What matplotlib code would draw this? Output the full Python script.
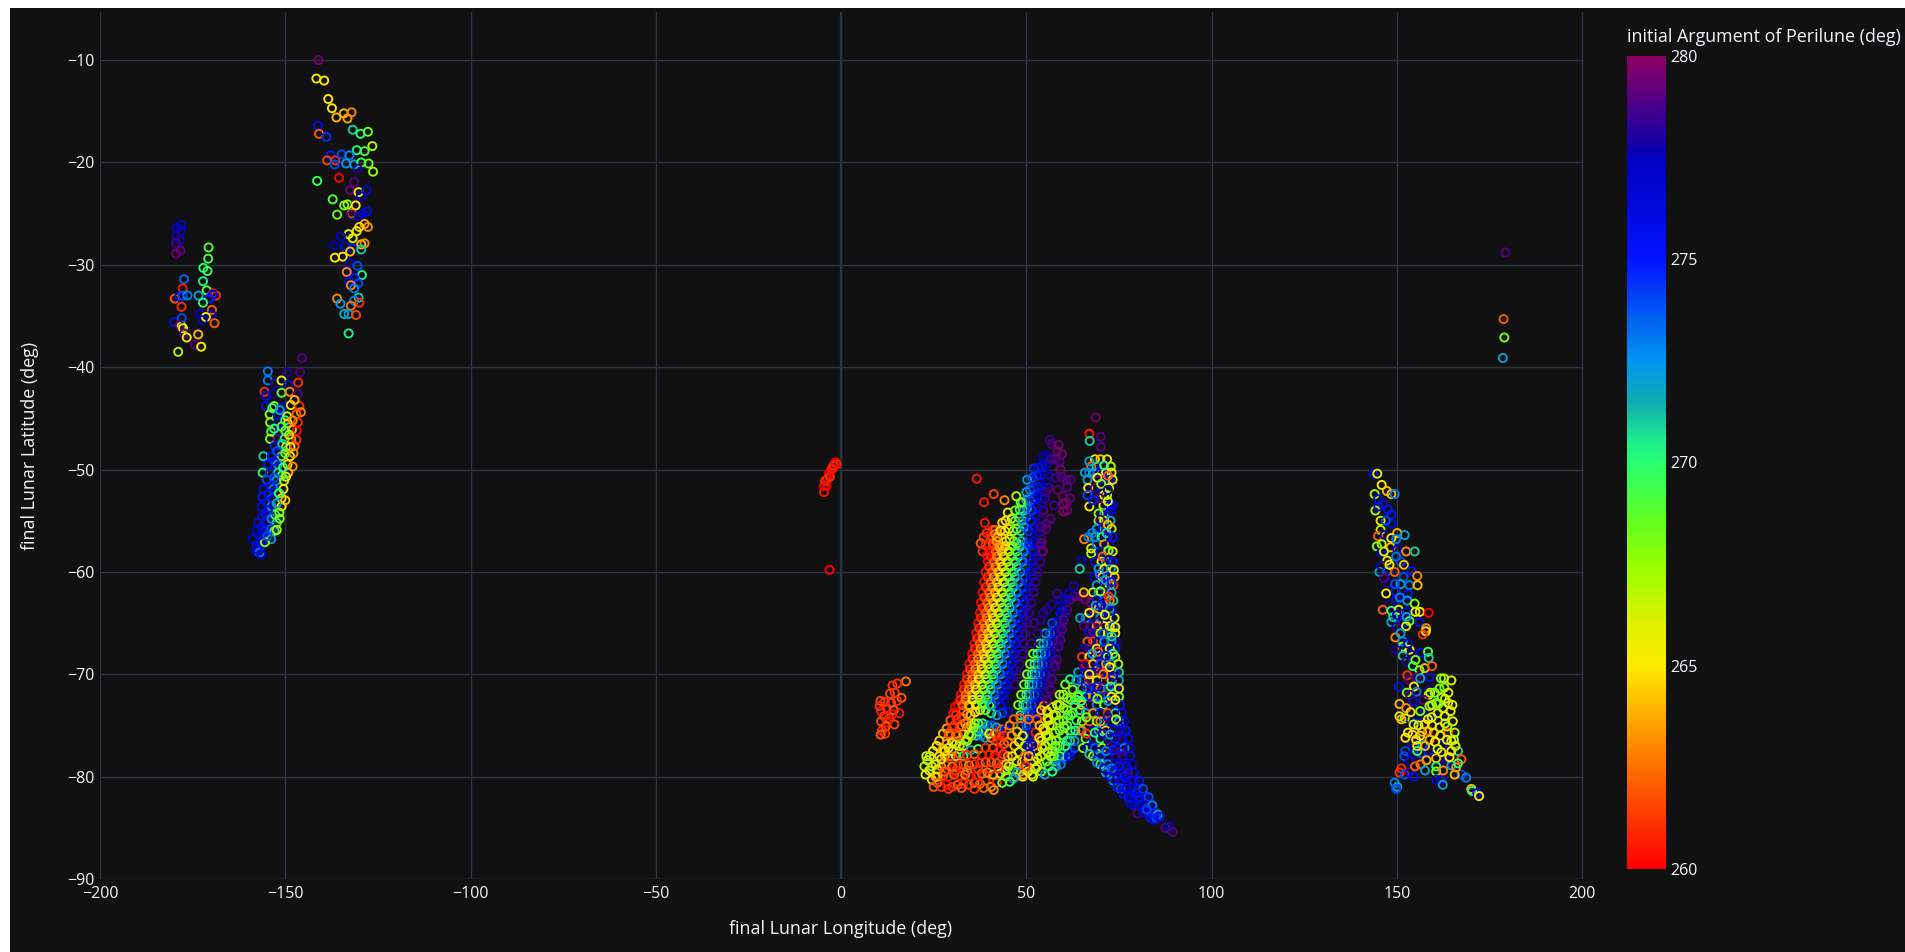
"""Lunar impact scatter: final lat/lon coloured by initial argument of perilune."""

import matplotlib
matplotlib.use("Agg")
import matplotlib.pyplot as plt
import numpy as np
from matplotlib.colors import LinearSegmentedColormap, Normalize
from matplotlib.patches import Rectangle

plt.rcParams["font.family"] = ["Open Sans", "DejaVu Sans"]

W, H = 1905, 952
BG = "#111111"
GRID = "#283442"
TEXT = "#f2f5fa"
na = np.nan

X_TICKS = [-200, -150, -100, -50, 0, 50, 100, 150, 200]
Y_TICKS = [-90, -80, -70, -60, -50, -40, -30, -20, -10]
CBAR_TICKS = [260, 265, 270, 275, 280]

ARG_STOPS = [260, 262, 263.5, 265, 266, 267.5, 268.5, 270, 270.5, 271.5, 272.5, 273.3, 275, 277.5, 278, 280]
ARG_COLORS = ["#ff0000", "#ff5a00", "#ffa000", "#ffeb00", "#e1f000", "#96ff00", "#64ff1e", "#28ff6e",
              "#1ef08c", "#14aab4", "#0096f0", "#006ef0", "#0014ff", "#0000be", "#1e00a0", "#8c0064"]

# ── Points: (lon, lat, arg) ───────────────────────────────────────────────────

far_east = [(179.3, -28.8, 279), (178.8, -35.3, 262), (179, -37.1, 268), (178.6, -39.1, 272)]

cluster_a = [
    (-141, -10, 279.5), (-141.6, -11.8, 265.5), (-139.5, -12, 265), (-138.4, -13.8, 265), (-137.4, -14.7, 265),
    (-136.2, -15.6, 264), (-134.2, -15.2, 264), (-133.2, -15.7, 263.5), (-132.1, -15.1, 263), (-141.2, -16.4, 276),
    (-140.9, -17.2, 262), (-138.9, -17.5, 274.5), (-131.8, -16.8, 271), (-129.7, -17.2, 270), (-127.7, -17, 268.5),
    (-126.5, -18.4, 267), (-128.6, -18.9, 269), (-130.7, -18.8, 270), (-137.8, -19.3, 275), (-138.7, -19.8, 261.5),
    (-136.5, -19.8, 261), (-136.7, -20.2, 274), (-134.8, -19.2, 274), (-132.7, -19.3, 273), (-133.6, -20.1, 272.5),
    (-131.4, -20.2, 272), (-129.5, -20, 270), (-127.5, -20.1, 268.5), (-126.3, -20.9, 267.5), (-130.5, -20.6, 278),
    (-141.4, -21.8, 269.5), (-135.5, -21.5, 260), (-131.4, -21.9, 279), (-132.5, -22.7, 279.5), (-130.2, -22.9, 265),
    (-128.1, -22.7, 276.5), (-129.6, -23.3, 277), (-137.2, -23.6, 269), (-134.1, -24.2, 268), (-133.2, -24.1, 267.5),
    (-131, -24.1, 278.5), (-131, -24.2, 265), (-136, -25.1, 268.5), (-132.1, -25, 263), (-132.1, -25.1, 279),
    (-127.9, -24.8, 276), (-129.1, -25, 276.5), (-130, -25.3, 277), (-127.7, -26.3, 263), (-128.6, -26, 263.5),
    (-130, -26.3, 264.5), (-130.7, -26.7, 265.5), (-132.9, -27, 266), (-131.8, -27.4, 266), (-135, -27.2, 277),
    (-136.8, -28.1, 277.5), (-133.9, -28.2, 276), (-131.8, -28.4, 275), (-132.5, -28.7, 264), (-129.5, -28, 264),
    (-128.6, -27.9, 263), (-129.5, -28.5, 271), (-136.6, -29.3, 265), (-134.5, -29.2, 265), (-132.5, -29.8, 277),
    (-130.5, -30.1, 274), (-133.4, -30.6, 278), (-133.4, -30.7, 263), (-129.3, -31, 270.5), (-131.4, -31.3, 275),
    (-132.7, -31.6, 276), (-130.3, -31.8, 274), (-132.3, -32, 263), (-131.4, -32.3, 273), (-136, -33.3, 263),
    (-135.1, -33.8, 272.5), (-130.2, -33.2, 271), (-131.4, -33.5, 273), (-130, -33.7, 261), (-132.3, -34, 262.5),
    (-134.1, -34.8, 271.5), (-132.9, -34.8, 272), (-130.9, -34.9, 261.5), (-132.9, -36.7, 270.5),
]

cluster_b = [
    (-178.1, -26.1, 277), (-179.4, -26.4, 277), (-178.1, -26.7, 277), (-179.4, -27.2, 278), (-178.5, -27.6, 278),
    (-179.5, -27.9, 278.5), (-178.3, -28.6, 279), (-179.5, -28.9, 279.5), (-170.7, -28.3, 269), (-170.8, -29.4, 269),
    (-172.1, -30.3, 270), (-171, -30.6, 269.5), (-177.3, -31.4, 273.5), (-172.2, -31.6, 270.5), (-177.7, -32.3, 260.5),
    (-171.2, -32.5, 269), (-169.5, -32.8, 261), (-179.8, -33.3, 262), (-178.6, -33.1, 276), (-177.7, -33, 274),
    (-176.4, -33, 273), (-173.4, -33, 272), (-168.7, -33, 261), (-169.5, -32.9, 277), (-170.5, -33.3, 275),
    (-172.2, -33.7, 270), (-178, -34.1, 261), (-169.8, -34.4, 262), (-173, -34.8, 277), (-169.8, -34.9, 277),
    (-179.9, -35.6, 276), (-177.9, -35.2, 274), (-171.4, -35.1, 265), (-172.3, -35.4, 277), (-169.1, -35.7, 262),
    (-178, -36, 265), (-178.5, -35.9, 279), (-177.6, -36.2, 266), (-177.3, -36.7, 279), (-176.6, -37.1, 265.5),
    (-173.5, -36.7, 278), (-173.5, -36.8, 264), (-174.4, -37.8, 279), (-172.7, -38, 265), (-178.9, -38.5, 267),
]

cluster_c = [
    (-145.5, -39.1, 279), (-149.5, -40.5, 278), (-154.7, -40.4, 273), (-146, -40.5, 279), (-154.7, -41.3, 273),
    (-152.8, -41.6, 278), (-151, -41.3, 266), (-149.2, -41.7, 276), (-146.5, -41.5, 261), (-155.6, -42.4, 261),
    (-153.4, -42.6, 278), (-151, -42.5, 269), (-148.8, -42.4, 263), (-146.6, -42.6, 279), (-155.2, -42.8, 276),
    (-155.2, -43.8, 276), (-153, -43.8, 268), (-150.8, -43.9, 277), (-148.5, -43.7, 265), (-146.2, -43.8, 261),
    (-145.8, -44.4, 263), (-154.2, -44.6, 267), (-152, -44.7, 276), (-149.5, -44.8, 266), (-147, -44.6, 262),
    (-154.1, -45.4, 268), (-152, -45.4, 277), (-149.3, -45.5, 265), (-146.6, -45.4, 261), (-148.2, -46.1, 264),
    (-153.8, -46.3, 269), (-151.5, -46.3, 276), (-150, -46.2, 268), (-146.9, -46.2, 260), (-154.1, -47, 268),
    (-152, -47, 279), (-150.2, -47, 270), (-148.4, -47, 263), (-147, -47.1, 261), (-152.8, -47.7, 275),
    (-149.8, -47.8, 267), (-147.5, -47.7, 262), (-155.9, -48.7, 271), (-153.6, -48.7, 276), (-151, -48.7, 268),
    (-148.7, -48.7, 265), (-154.6, -49.5, 275), (-152, -49.5, 272), (-149.4, -49.5, 266), (-148, -49.7, 263),
    (-156.1, -50.3, 270), (-154.1, -50.3, 276), (-151.9, -50.3, 271), (-149.2, -50.3, 264), (-155, -51, 274),
    (-152.5, -51.1, 272), (-150.3, -51.1, 267), (-155.9, -51.9, 276), (-153.2, -51.9, 273), (-150.5, -51.9, 265),
    (-156.2, -52.7, 275), (-153.6, -52.8, 274), (-151, -52.8, 266), (-156.4, -53.6, 276), (-153.7, -53.6, 272),
    (-151, -53.6, 265), (-155.2, -54.4, 275), (-152.8, -54.4, 270), (-157.3, -55.2, 276), (-155, -55.2, 276),
    (-152.3, -55.2, 269), (-157.8, -56, 277), (-155.4, -56, 275), (-152.9, -56, 270), (-158.7, -56.8, 277),
    (-156, -56.8, 276), (-153.8, -56.8, 272), (-157.9, -57.4, 276), (-156.5, -57.4, 277), (-155.5, -57.1, 268),
    (-157.8, -58, 277), (-156.9, -58.1, 273),
    (-153.5, -44, 270), (-151.5, -44.2, 272), (-147.5, -43.2, 264), (-150, -45.2, 270), (-151, -45.8, 269),
    (-148, -45.2, 263), (-153, -46, 270), (-149, -46.6, 267), (-150.8, -47.5, 271), (-148.6, -47.8, 265),
    (-152.2, -48.2, 274), (-150, -48.4, 269), (-147.8, -48.4, 263), (-153, -49.2, 275), (-150.6, -49.8, 270),
    (-151, -50.6, 270), (-149.8, -50.7, 266), (-153, -50.8, 274), (-154, -51.6, 275), (-151.7, -52.3, 270),
    (-154.6, -52.4, 276), (-152.3, -53.3, 272), (-155, -53.2, 276), (-150, -53, 264), (-154.7, -54, 276),
    (-151.6, -54.2, 268), (-156.2, -54.6, 276), (-153.7, -54.8, 273), (-151.5, -54.8, 268), (-156.3, -55.6, 276),
    (-153.8, -55.8, 274), (-156.9, -56.4, 277), (-154.8, -56.5, 274), (-156.5, -58.3, 277), (-157.5, -57.8, 276),
    (-152.3, -55.9, 267),
]

near_side = [
    (-4.6, -52.2, 260.5), (-4.6, -51.6, 260), (-4.3, -51.1, 261), (-3.9, -51.6, 260), (-3.7, -50.9, 260.5),
    (-3.3, -50.4, 260), (-3, -50.7, 261), (-2.7, -50, 260), (-2.3, -49.9, 260.5), (-2, -49.6, 261),
    (-1.5, -49.3, 260), (-1.2, -49.5, 260.5), (-3.1, -59.8, 260),
]

cluster_e = [
    (17.5, -70.7, 262.5), (15.2, -70.9, 261), (13.9, -71.1, 261), (13.2, -71.9, 261.5), (14.5, -71.8, 261),
    (16.3, -72.3, 262), (15.1, -72.6, 261), (13.5, -72.8, 261.5), (11.8, -72.7, 261), (10.6, -72.6, 261.5),
    (12.3, -73.3, 261), (14.2, -73.5, 262), (15.7, -73.8, 260.5), (10.8, -73.6, 260.5), (11.6, -74.1, 261),
    (13, -74.3, 261), (14.4, -74.9, 261.5), (10.8, -74.6, 261.5), (12, -75.1, 262), (11, -75.5, 261),
    (11.9, -75.8, 261), (10.7, -75.9, 262), (12.4, -74.7, 260.5), (13.8, -73.9, 260.5), (10.4, -73.1, 261),
]

# Main rainbow band, one longitude per latitude row for each argument level
band_lat_a = [-73, -72, -71, -70, -69, -68, -67, -66, -65, -64, -63, -62, -61, -60, -59, -58]
band_lat_b = [-72.5, -71.5, -70.5, -69.5, -68.5, -67.5, -66.5, -65.5, -64.5, -63.5, -62.5, -61.5, -60.5, -59.5, -58.5, -57.5]

lon_260 = [31.5, 32.3, 33.2, 34.0, 34.6, 35.4, 36.0, 36.5, 37.0, 37.5, 37.8, 38.2, 38.6, 39.0, 39.6, 40.0]
lon_261 = [32.2, 33.2, 34.0, 34.8, 35.5, 36.2, 36.8, 37.3, 37.8, 38.3, 38.7, 39.1, 39.6, 40.0, 40.5, 41.0]
lon_262 = [32.8, 33.7, 34.6, 35.4, 36.2, 37.0, 37.5, 38.2, 38.6, 39.1, 39.5, 40.0, 40.4, 40.8, 41.3, 41.8]
lon_263 = [33.6, 34.5, 35.4, 36.3, 37.0, 37.7, 38.3, 38.9, 39.4, 39.9, 40.3, 40.8, 41.2, 41.7, 42.1, 42.6]
lon_264 = [34.5, 35.4, 36.2, 37.1, 37.8, 38.5, 39.1, 39.7, 40.2, 40.7, 41.1, 41.6, 42.1, 42.5, 43.0, 43.4]
lon_265 = [35.5, 36.4, 37.2, 38.0, 38.8, 39.4, 40.0, 40.6, 41.1, 41.6, 42.1, 42.5, 43.0, 43.5, 43.9, 44.3]
lon_266 = [36.4, 37.3, 38.1, 39.0, 39.7, 40.3, 41.0, 41.5, 42.0, 42.5, 43.0, 43.5, 44.0, 44.4, 44.9, 45.3]
lon_267 = [37.5, 38.4, 39.2, 40.0, 40.7, 41.4, 42.0, 42.5, 43.1, 43.6, 44.1, 44.6, 45.0, 45.5, 45.9, 46.3]
lon_269 = [38.5, 39.4, 40.2, 41.0, 41.7, 42.3, 43.0, 43.5, 44.1, 44.6, 45.1, 45.6, 46.0, 46.5, 46.9, 47.3]
lon_270 = [39.5, 40.4, 41.2, 42.0, 42.7, 43.3, 44.0, 44.5, 45.0, 45.5, 46.0, 46.5, 47.0, 47.5, 47.9, 48.3]
lon_272 = [40.6, 41.5, 42.2, 43.0, 43.6, 44.3, 44.9, 45.5, 46.0, 46.5, 47.0, 47.5, 48.0, 48.4, 48.9, 49.3]
lon_274 = [42.0, 42.8, 43.6, 44.4, 45.0, 45.6, 46.2, 46.8, 47.4, 48.0, 48.4, 48.9, 49.3, 49.8, 50.2, 50.6]
lon_275 = [43.0, 43.8, 44.6, 45.5, 46.1, 46.7, 47.2, 47.8, 48.4, 49.0, 49.5, 50.0, 50.5, 51.0, 51.5, 52.0]
lon_277 = [44.0, 44.8, 45.6, 46.5, 47.2, 47.8, 48.2, 48.8, 49.4, 50.0, 50.5, 51.1, 51.6, 52.2, 52.8, 53.2]
lon_278 = [na, na, 47.0, 47.8, 48.3, 48.9, 49.3, 49.7, 50.3, 50.8, 51.4, 52.0, 52.5, 53.1, 53.7, 54.2]

band_top = [
    (43.5, -57.5, 264), (44.5, -57, 265), (45.5, -56.8, 266), (46.6, -57, 267.5), (47.5, -57.2, 269),
    (48.6, -57, 271), (49.8, -57.2, 273), (50.8, -57.2, 275), (51.8, -57, 276.5), (53, -57.2, 277.5),
    (54.2, -56.8, 278.5), (44.2, -56, 264.5), (45.3, -55.8, 265.5), (46.5, -56, 267), (47.4, -55.8, 268.5),
    (48.5, -56, 270.5), (49.5, -55.6, 272.5), (50.6, -56, 274.5), (51.8, -55.8, 276), (53, -56, 277.5),
    (54, -55.6, 279), (44.4, -55, 265), (46, -54.8, 266.5), (47, -55, 268), (48, -54.7, 269.5),
    (49, -55, 271.5), (50, -54.6, 273), (51.2, -55, 275), (52.5, -54.6, 276.5), (53.8, -55, 278),
    (54.6, -54, 279), (45, -54.2, 265.5), (47, -54, 268), (48.2, -53.9, 269.5), (49.2, -54, 271),
    (50.2, -53.8, 272.5), (51.5, -54, 274.5), (52.8, -53.7, 276), (54.2, -53.5, 278), (55, -52.8, 278.5),
    (49, -53.2, 270.5), (50, -53, 272), (51, -53, 273.5), (52, -52.8, 275), (53, -52.6, 276),
    (54, -52.8, 277), (55.3, -52.2, 278.5), (56, -51.8, 279), (50, -52.2, 272), (51, -52, 273),
    (52, -51.8, 274.5), (53, -51.7, 275.5), (54.2, -51.6, 276.5), (55.4, -51.2, 277.5), (50.2, -51, 272.5),
    (51.6, -50.8, 274), (52.8, -50.6, 275), (54, -50.5, 276), (55, -50.2, 277), (56, -50.5, 278),
    (52, -49.9, 274.5), (53.2, -49.8, 276), (54.3, -49.6, 276.5), (55.5, -49.4, 277), (54.5, -48.8, 277),
    (55.5, -48.6, 277.5), (56.7, -49, 278.5), (58, -49, 279), (56.3, -47.1, 278.5), (56.9, -47.5, 279),
    (58.7, -47.6, 279.5), (58.4, -48.2, 279.5), (59.6, -48.5, 279.5), (59, -49.2, 279), (59.2, -50, 279.5),
    (58, -50.8, 278.5), (59.5, -50.7, 279), (60.8, -51, 279), (62, -51, 279), (61, -51.7, 279),
    (58.5, -52, 279), (59.8, -52.6, 279.5), (61.8, -52.8, 279), (60, -53.4, 280), (60.8, -53.2, 279.5),
    (60, -54.1, 280), (61, -54, 279.5), (57.5, -53.5, 278.5), (56.5, -54.8, 279), (55.5, -55.3, 279),
    (55.3, -55.8, 279), (54, -57.2, 279.5), (54.5, -58, 279.5), (52.5, -58.5, 278),
    (36.6, -50.9, 260.5), (41.2, -52.4, 261.5), (38.6, -53.2, 260.5), (44.1, -53, 263), (47.3, -52.6, 267),
    (48.5, -53.2, 268), (38.8, -55.2, 260.5), (40.9, -55.9, 261), (41.6, -55.9, 262),
    (37.7, -57.2, 262), (38.5, -56.6, 261.5), (39.3, -56.2, 261), (40.2, -56.4, 260.5), (40.8, -56.6, 261),
    (41.6, -56.3, 262.5), (39, -57.4, 261), (40, -57.4, 260.5), (41, -57.2, 261.5), (42, -57, 263),
    (42.2, -56.6, 264), (43, -56, 265), (43.5, -55.2, 264.5), (42.8, -57.6, 263.5), (38.2, -58, 261),
    (39.4, -58.4, 260),
]

# Second band, left of the purple ridge
band2_lat = [-76, -75, -74, -73, -72, -71, -70, -69, -68, -67, -66, -65, -64]
b2_268 = [na, na, na, 47.8, 48.6, 49.4, 50.2, 51.0, 51.8, na, na, na, na]
b2_270 = [na, na, 48.4, 49.2, 50.0, 50.8, 51.5, 52.2, 53.0, 53.6, na, na, na]
b2_272 = [na, 48.6, 49.6, 50.2, 51.0, 51.8, 52.5, 53.2, 54.0, 54.6, 55.2, na, na]
b2_274 = [49.4, 50.0, 50.6, 51.4, 52.2, 53.0, 53.7, 54.4, 55.2, 55.8, 56.4, 57.0, na]
b2_276 = [50.6, 51.2, 51.9, 52.6, 53.4, 54.3, 55.1, 55.8, 56.6, 57.2, 57.8, 58.4, 59.2]
b2_278 = [na, na, 53.5, 54.4, 55.2, 55.9, 56.6, 57.3, 58.0, 58.6, 59.2, 59.8, 60.4]

ridge = [
    (55.6, -72.5, 279), (56.5, -71.5, 279), (56.9, -70.5, 279), (57.8, -69.2, 279), (58.3, -68.6, 279),
    (58.7, -67.3, 279), (59.2, -66.6, 279), (59.6, -65.6, 279), (60.1, -64.7, 279), (61, -63.7, 279),
    (61.9, -62.7, 279), (63.2, -62.4, 279), (64.6, -62.4, 279), (65.9, -62.7, 279.5), (67.3, -63, 279.5),
    (68.2, -63.7, 279.5), (67.3, -65.3, 279.5), (68.2, -65.8, 279.5), (59.6, -63.7, 277), (60.5, -62.7, 277),
    (59.2, -62.7, 277), (61.4, -62.1, 277), (62.8, -61.4, 278), (58.3, -62.1, 278.5), (55.6, -63.7, 278),
    (53.8, -64.7, 278), (52, -65, 278.5), (56.9, -63.2, 278), (54.6, -64, 278), (53, -66, 278.5), (51.5, -67, 278.5),
]

# Lime lobe at the foot of the tower, plus its orange/yellow left edge
lobe = [
    (47, -80, 263), (48.5, -79.5, 263), (50, -79, 263), (51, -78, 263.5), (52, -77, 263.5),
    (49, -80, 265), (50.5, -79.5, 265), (52, -78.5, 265), (53, -77.5, 265), (54, -76.5, 265),
    (55, -75.5, 265.5), (56, -74.5, 265.5), (51.5, -79.8, 267), (53, -79, 267), (54, -78, 267),
    (55, -77, 267), (56, -76, 267), (57, -75, 267), (58, -74, 267), (59, -73, 267), (60, -72, 267),
    (54, -79.5, 268), (55.5, -78.5, 268), (57, -77.5, 268), (58, -76.5, 268), (59, -75.5, 268),
    (60, -74.5, 268), (61, -73.5, 268), (62, -72.5, 268), (62.5, -71.5, 268), (56, -79, 269),
    (57.5, -78, 269), (59, -77, 269), (60, -76, 269), (61, -75, 269), (62, -74, 269), (63, -73, 269),
    (64, -72, 269), (58, -78.5, 270), (59.5, -77.7, 270), (61, -76.5, 270), (62, -75.5, 270),
    (63.5, -74.5, 270), (64.5, -73.5, 270), (55, -79.8, 272), (58, -79, 272), (60.5, -78, 272),
    (63, -76.5, 272), (64.5, -75.5, 272), (60, -78.3, 275), (62, -77.6, 275), (63, -77.2, 274),
    (53, -78.2, 266), (54.3, -77.2, 266), (55.3, -76, 266), (56.3, -75, 266), (57.3, -74, 266.5),
    (58.3, -73, 266.5), (59, -72, 267), (60.5, -71, 268), (61.8, -70.5, 270),
    (46.6, -74.4, 262), (48.4, -74.3, 262), (50.6, -74.4, 262.5), (54.7, -73.1, 263), (54, -73.5, 264),
    (55.6, -73.6, 265), (52.9, -74.4, 262), (52.5, -75.7, 260.5), (53.6, -75, 264), (52.5, -76.8, 262),
    (45.5, -75, 263), (46, -76, 263), (46.8, -77, 264), (46.2, -78, 265), (45.2, -79, 267),
    (47.5, -75.6, 264), (48, -76.6, 265), (48, -77.6, 266), (47.4, -78.5, 266.5), (46.5, -79.4, 268),
    (49, -76, 266), (49.5, -77, 267), (49.5, -78, 262), (48.8, -78.6, 264), (44.5, -80, 268),
    (47.5, -79.6, 272), (46.5, -80.2, 272), (45.5, -80.5, 270), (43.5, -80.6, 268), (50.5, -77, 276),
    (51, -77.8, 277), (50, -78.4, 278), (51.6, -76.9, 277), (49.8, -79, 261),
    (56.5, -78, 267), (57.8, -75.7, 267.5), (58.8, -74.5, 267.5), (60, -73.3, 267.5), (61, -72.3, 268),
    (60.2, -75.2, 268), (61.2, -74, 268.5), (62.5, -73.8, 269), (63.5, -72.5, 270), (55.8, -77.6, 266.5),
    (56.8, -76.5, 267), (57.8, -77, 268), (59, -78, 269), (60.5, -77, 270), (61.8, -76.5, 271),
    (63.2, -75.5, 270), (53.5, -76.2, 265), (54.6, -75.3, 265.5), (55.7, -74.3, 266), (57, -73.2, 266.5),
    (52.5, -79.2, 266), (50.6, -78, 264), (49.2, -79.8, 264), (51.8, -80, 266), (57, -79.5, 270),
    (59.3, -78.8, 273), (61.5, -78, 276),
]

base = [
    (22.5, -79, 267), (22.8, -79.8, 266), (23.3, -78.4, 266.5), (23.8, -79.4, 265.5), (24, -78, 266),
    (24.5, -80.3, 265), (24.8, -77.5, 265.5), (25.5, -78.8, 265), (25.8, -77, 265), (26.5, -78, 264.5),
    (26.5, -76.5, 264.5), (27.5, -77.3, 264), (27.5, -75.8, 264), (28.5, -76.8, 263.5), (28.5, -75.3, 263.5),
    (29.5, -76, 263), (29.5, -74.5, 262), (30.3, -73.8, 260.5), (30.5, -75, 261), (31.2, -74.4, 260.5),
    (31, -75.8, 262), (32, -75.2, 261), (32.5, -74.2, 261), (33, -73.6, 262), (34, -73.9, 263),
    (35, -74, 264), (36.2, -73.7, 265), (37.5, -73.5, 266), (39, -73.5, 268), (40.5, -73.8, 270), (42, -74, 272),
    (43.5, -73.8, 274), (45, -73.7, 275.5), (32, -76.5, 263), (33, -75.8, 264), (34, -75.2, 265),
    (35, -75, 266), (36, -74.8, 267), (37, -74.8, 268), (38.2, -74.8, 270), (39.5, -75, 272),
    (40.8, -75, 274), (42, -75.2, 272), (43.3, -75.4, 262), (44.5, -75.4, 275), (33, -77, 265),
    (34, -76.5, 267), (35.2, -76, 268), (36.5, -76, 271), (37.8, -76, 273), (39, -76.2, 272),
    (40.5, -76.2, 263), (42, -76.5, 260.5), (43, -76.5, 261), (44, -76.8, 262), (30, -77.5, 265),
    (31, -78, 266), (33, -78, 270), (35, -77.4, 272), (37, -77.3, 269), (39, -77.2, 261),
    (41, -77.2, 262), (42.5, -77.5, 260), (43.8, -77.8, 261), (25, -81, 262), (27, -81, 261),
    (28.5, -80.8, 260), (30, -81, 261), (31.5, -80.8, 262), (33, -80.7, 260.5), (34.5, -80.8, 261),
    (36, -80.6, 263), (37.5, -80.7, 262), (39, -80.4, 261), (40.5, -81, 263), (42, -80.6, 261),
    (26, -80, 264), (27.5, -79.9, 262), (29, -80, 260.5), (30.5, -79.8, 262), (32, -79.9, 260.5),
    (33.5, -79.8, 263), (35, -80, 261), (36.5, -79.9, 260), (38, -79.7, 262), (39.5, -79.6, 263),
    (41, -79.8, 264), (43, -79.7, 265), (27, -79, 263), (28.5, -78.9, 260.5), (30, -79, 263),
    (31.5, -78.9, 261), (33, -78.8, 261.5), (34.5, -78.9, 263), (36, -78.8, 261), (37.5, -78.7, 260.5),
    (39, -78.6, 262), (40.5, -78.6, 262), (42, -78.7, 262), (43.5, -78.8, 261), (28, -78, 263.5),
    (29.5, -78, 262), (32, -77.8, 262), (34, -77.9, 261), (36, -77.8, 262), (38, -77.9, 261),
    (40, -77.8, 260.5), (41.5, -77.9, 261),
    (23, -78, 267), (24.5, -79, 267), (25.5, -80, 264), (26, -79.3, 266), (27, -78.3, 266),
    (28, -77.5, 265), (29, -77.2, 266), (30, -76.6, 265), (31, -76.8, 266), (32, -77, 267),
    (33.5, -76.4, 268), (34.5, -75.9, 266), (35.8, -75.2, 267), (37, -75.6, 270), (38.5, -75.5, 272),
    (40, -75.8, 265), (41.5, -75.8, 262), (42.8, -76, 260.5), (44, -76, 261), (45, -76.6, 262),
    (45, -78, 263), (44.5, -78.8, 264), (44.2, -79.4, 266), (42.5, -79.2, 261), (40.3, -79.3, 261),
    (37, -79.3, 261), (34, -79.4, 262), (31, -79.4, 261), (28, -79.5, 262), (26, -80.6, 262),
    (29, -81.2, 261), (32.5, -81.1, 262), (36, -81.2, 261), (38.5, -81.1, 262), (41.2, -81.3, 263),
    (30.7, -73.2, 260), (31, -74, 261), (30, -75.2, 261), (29, -75.8, 262), (33.5, -74.8, 263),
    (32.6, -75, 262), (31.5, -76, 262), (34.8, -73.2, 264), (36.5, -73, 265), (38.2, -72.9, 267),
    (40, -73, 269),
]

tower = [
    (68.7, -44.9, 279.5), (67, -46.5, 260.5), (67.1, -47.2, 271), (70.1, -46.8, 279), (70.1, -47.8, 279),
    (67, -53.6, 265), (65.6, -56.8, 263), (67.5, -57.7, 266), (67.5, -58.2, 267), (64.9, -58.9, 277),
    (64.4, -59.7, 271), (65.5, -62, 264), (68.5, -49, 266), (70, -49, 264), (71.8, -49, 266),
    (67.5, -49.7, 262), (69, -49.7, 271), (70.5, -49.7, 278), (72.8, -49.7, 267), (65.8, -50.3, 272),
    (67, -50.3, 273), (68.2, -50.3, 272), (70, -50.3, 277), (71.5, -50.3, 265), (73, -50.3, 266),
    (66.5, -51, 272), (69.5, -51, 279), (71, -51, 276), (72.5, -51, 276), (73.3, -51, 266),
    (66.7, -51.8, 265), (68.5, -51.8, 279), (70.3, -51.8, 278), (72.3, -51.8, 266), (66.5, -52.5, 274),
    (69, -52.5, 278), (71, -52.5, 266), (71.8, -52.5, 268), (70.8, -53.5, 266), (72.5, -53.5, 276),
    (73.3, -53.5, 276), (71, -54.3, 272), (72.3, -54.3, 277), (69.5, -54.3, 268), (69.5, -55, 268),
    (71, -55, 266), (72.7, -55, 272), (69, -55.8, 272), (70.5, -55.8, 277), (71.8, -55.8, 279),
    (73, -55.8, 267), (66.8, -56.6, 273), (68.5, -56.6, 272), (70.3, -56.6, 270), (72, -56.6, 275),
    (69, -57.3, 273), (71, -57.3, 263), (72.5, -57.3, 278), (70, -58, 276), (72, -58, 272),
    (73.3, -58, 266), (68.5, -59, 276), (70.3, -59, 266), (71.5, -59, 272), (73.3, -59, 275),
    (69.5, -59.7, 272), (71, -59.7, 265), (72.8, -59.7, 272), (68.3, -60.5, 277), (70.5, -60.5, 264),
    (72, -60.5, 276), (73.8, -60.5, 264), (69, -61.3, 272), (71, -61.3, 277), (72.5, -61.3, 268),
    (73.5, -61.3, 261), (68, -62, 266), (69.5, -62, 272), (71.5, -62, 279), (73, -62, 272),
    (69, -62.8, 276), (71, -62.8, 274), (72.5, -62.8, 263), (73.5, -62.8, 271), (69.5, -63.6, 264),
    (71, -63.6, 278), (72.5, -63.6, 272), (64.5, -64.5, 272), (66, -64.5, 273), (68, -64.5, 276),
    (70, -64.5, 272), (72, -64.5, 277), (73.8, -64.5, 266), (65.5, -65.3, 279), (69, -65.3, 263),
    (71, -65.3, 265), (72.5, -65.3, 265), (73.5, -65.3, 274), (68, -66, 279), (70, -66, 268),
    (72, -66, 266), (74, -66, 266), (66.5, -66.8, 262), (68, -66.8, 261), (69.5, -66.8, 276),
    (71, -66.8, 272), (73, -66.8, 273), (74.2, -66.8, 277), (65.5, -67.5, 277), (67, -67.5, 279),
    (69, -67.5, 265), (71, -67.5, 276), (72.5, -67.5, 265), (74, -67.5, 275), (65, -68.3, 261),
    (67, -68.3, 265), (68.5, -68.3, 277), (70.3, -68.3, 278), (72, -68.3, 268), (74, -68.3, 266),
    (66, -69, 260), (68, -69, 264), (70, -69, 274), (71.5, -69, 263), (73, -69, 273),
    (74.8, -69, 267), (64, -69.8, 272), (66, -69.8, 276), (68, -69.8, 278), (70, -69.8, 261),
    (72, -69.8, 277), (74, -69.8, 276), (75, -69.8, 271), (63.5, -70.6, 272), (65, -70.6, 274),
    (67, -70.6, 262), (69, -70.6, 266), (71, -70.6, 278), (73, -70.6, 264), (75, -70.6, 272),
    (65, -71.4, 271), (66.5, -71.4, 274), (68, -71.4, 277), (70, -71.4, 262), (72, -71.4, 273),
    (74, -71.4, 276), (64, -72.2, 268), (66, -72.2, 270), (68, -72.2, 263), (70, -72.2, 274),
    (71.5, -72.2, 279), (73, -72.2, 265), (75, -72.2, 268), (65, -73, 264), (67, -73, 279),
    (69, -73, 273), (71, -73, 268), (73, -73, 277), (75.3, -73, 275), (66, -73.8, 272),
    (68, -73.8, 263), (70, -73.8, 276), (72, -73.8, 261), (74, -73.8, 271), (75.8, -73.8, 276),
    (65, -74.6, 268), (67, -74.6, 262), (69, -74.6, 268), (71, -74.6, 273), (73, -74.6, 277),
    (75, -74.6, 272), (76.5, -74.6, 277), (65, -75.5, 263), (67.5, -75.5, 278), (69.5, -75.5, 272),
    (71.5, -75.5, 264), (73.5, -75.5, 276), (75.5, -75.5, 277), (76.8, -75.5, 275), (66, -76.3, 269),
    (68, -76.3, 276), (70, -76.3, 270), (72, -76.3, 278), (74, -76.3, 275), (76, -76.3, 277),
    (77.5, -76.3, 276), (65.3, -77.2, 268), (66.5, -77.2, 277), (68.5, -77.2, 274), (70.5, -77.2, 268),
    (72.5, -77.2, 279), (74.5, -77.2, 276), (76.5, -77.2, 273), (77.8, -77.2, 277), (68, -78, 267),
    (70, -78, 272), (72, -78, 276), (74, -78, 278), (76, -78, 276), (78, -78, 276),
    (70, -78.8, 270), (72, -78.8, 273), (74, -78.8, 277), (76, -78.8, 278), (78.5, -78.8, 277),
    (71.5, -79.6, 272), (73.5, -79.6, 276), (75.5, -79.6, 277), (77.5, -79.6, 279), (79, -79.6, 276),
    (73.5, -80.4, 273), (75.5, -80.4, 276), (77, -80.4, 277), (79, -80.4, 276), (80.5, -80.4, 275),
    (75.5, -81.2, 274), (77, -81.2, 276), (78.5, -81.2, 277), (80, -81.2, 276), (81.5, -81.2, 274),
    (77.5, -82, 275), (79, -82, 277), (80.5, -82, 276), (82, -82, 276), (83, -82, 274),
    (79, -82.8, 276), (80.5, -82.8, 276), (82, -82.8, 277), (83.5, -82.8, 277), (84, -82.8, 273),
    (80, -83.6, 279), (81.5, -83.5, 277), (83, -83.5, 276), (84.5, -83.5, 275), (85.5, -83.7, 272),
    (83.5, -84, 275), (85, -84, 274), (86, -83.9, 276), (87.5, -85, 279), (88.6, -84.9, 277), (89.5, -85.4, 279),
    (67, -49.2, 272), (71, -49.6, 270), (69.2, -50.8, 265), (72, -50.6, 262), (70.2, -51.4, 268),
    (72, -52, 278), (69.8, -52.8, 279), (68, -53, 275), (72, -53.1, 266), (73, -54, 277),
    (70, -54.9, 279), (72, -55.4, 264), (71.6, -56.2, 271), (73.4, -56.6, 276), (67.8, -56.2, 273),
    (72.2, -57.9, 268), (70.6, -58.5, 262), (72.4, -58.8, 278), (73.6, -59.8, 266), (69.8, -60.2, 273),
    (71.4, -60.8, 272), (73, -61, 275), (70, -61.9, 268), (72.2, -62.4, 261), (68.7, -63.3, 272),
    (70.2, -63.2, 277), (73, -63.8, 276), (67, -64, 265), (69.3, -64.9, 279), (71.2, -64.2, 266),
    (74, -65.4, 266), (67, -65.9, 276), (70.8, -66, 274), (73, -66.3, 271), (69.4, -67.8, 262),
    (67.8, -68, 272), (73.4, -68, 270), (71.4, -68.2, 275), (65.5, -69.2, 278), (69, -69.4, 277),
    (72.5, -69.3, 265), (67, -70, 265), (70.8, -70, 263), (73.4, -70.2, 278), (66, -71, 279),
    (69, -71.2, 275), (72.8, -71.2, 270), (75, -71.4, 266), (64.8, -72.6, 270), (67, -72.1, 275),
    (69.2, -72.4, 268), (72, -72.6, 272), (74, -72.5, 265), (66.2, -74.2, 268), (70, -74.6, 263),
    (72, -74.2, 278), (74.2, -74.4, 267), (76, -75, 278), (66.2, -75.8, 261), (68.5, -75.7, 270),
    (70.6, -75.8, 277), (72.6, -75.9, 272), (74.6, -76, 278), (67, -77.8, 271), (69.5, -77.6, 277),
    (71.5, -77.5, 273), (73.5, -77.4, 275), (75.5, -77.6, 279), (69, -78.6, 273), (71, -79.2, 277),
    (73, -79.2, 273), (75, -79, 275), (77, -79, 276), (72.5, -80, 276), (74.5, -80, 278),
    (76.5, -80, 275), (78, -80.2, 278), (74.5, -81, 275), (76.2, -81.7, 276), (78, -81.8, 277),
    (79.8, -81.6, 275), (78, -82.6, 277), (81, -83, 277), (82.5, -83.2, 274), (84.5, -84.2, 276),
]

cluster_f = [
    (143.7, -50.4, 276), (144.7, -50.4, 266), (145.9, -51.5, 265), (147.3, -52.1, 264), (148.5, -52.4, 264),
    (149.4, -52.4, 273), (144, -52.4, 267), (144.9, -52.9, 276), (146.2, -53.4, 276), (147.6, -53.9, 275.5),
    (144.2, -54, 267), (148.5, -54.4, 275), (145.6, -55, 266), (148.6, -55.3, 276), (145.6, -55.9, 267),
    (150.1, -56.2, 264), (152.1, -56.4, 272), (144.9, -56.5, 262), (146.7, -56.4, 278), (148.5, -56.7, 265),
    (149.8, -56.8, 273), (144.6, -57.5, 268), (145.9, -57.3, 267), (148.3, -57.6, 264), (150.1, -57.8, 277),
    (152.5, -58, 263), (154.8, -58, 271), (145.8, -58.1, 277), (147.4, -58.9, 266), (149.8, -58.5, 273),
    (151, -59, 274), (151.9, -59.3, 264), (145.3, -60, 272), (145.8, -59.4, 278), (147.6, -59.9, 274),
    (149.4, -60, 262), (153.9, -59.9, 275), (155.5, -60.4, 263), (151.8, -60.5, 274), (147.6, -61.1, 278),
    (151, -61.2, 272), (153.4, -61.3, 273), (155.6, -61.3, 264), (147.1, -62.1, 265), (149.7, -61.9, 275),
    (153, -62.2, 275.5), (149.8, -62.7, 276), (148, -63.2, 278), (152.8, -62.8, 272), (154.8, -63.1, 268),
    (146.2, -63.7, 262), (148.5, -63.8, 270), (150.5, -63.7, 266), (152.6, -63.9, 276), (155, -63.9, 266),
    (156.2, -63.9, 265), (158.6, -64, 260), (148.5, -64.9, 272), (151.6, -65, 275), (153.4, -64.8, 269),
    (156.1, -64.9, 276), (149.8, -65.4, 278), (152.5, -65.3, 266), (157.9, -65.5, 263), (157.8, -65.8, 265),
    (157, -66.1, 261), (149.6, -66.4, 263), (151.6, -66.8, 273), (151.6, -67.3, 268), (149.8, -67.6, 278),
    (153.4, -67.6, 265), (156.4, -67.9, 276), (158.4, -67.8, 269), (158.6, -68.4, 271), (151.6, -68.2, 271),
    (153.9, -68.1, 277), (152.5, -68.8, 278), (154.3, -69.2, 270), (157.5, -69.4, 264), (159.5, -69.2, 262),
    (156.1, -69.6, 268), (161.9, -70.4, 268), (162.7, -70.4, 267), (164.7, -70.6, 266), (158.8, -70.3, 276),
    (152.8, -70.1, 261), (155.2, -70.3, 279), (153.4, -70.6, 279), (150.5, -71.2, 276), (154.6, -71.2, 265),
    (158.8, -71.5, 278), (161.5, -71.4, 268), (162.8, -71.3, 268), (152.7, -71.8, 268), (155.3, -71.7, 273),
    (163.9, -71.8, 266), (158.6, -72, 266), (162.1, -72.3, 267), (150.7, -72.9, 264), (154.5, -72.7, 276),
    (157.2, -72.5, 279), (160.6, -72.8, 268), (163.8, -72.8, 266), (152.5, -73.3, 263), (157.5, -73.6, 276),
    (158.8, -73.1, 267), (162.4, -73.3, 266), (164.5, -73.6, 266), (150.7, -74.1, 266), (152.1, -74.3, 267),
    (153.6, -74.4, 276), (155.9, -74.8, 275), (160.8, -74.4, 276), (158.4, -74.4, 265), (162.9, -74.1, 266),
    (165.1, -74.6, 266), (153, -75.7, 265), (154.2, -75.9, 264.5), (158.4, -75.5, 262), (163.9, -75.7, 261),
    (165.6, -75.7, 267), (156.3, -76, 265), (160, -75.7, 264), (161.7, -76, 265), (157, -76.9, 273),
    (162.4, -76.9, 275), (153.9, -76.7, 278), (164.7, -76.5, 266), (165.4, -76.4, 267), (152.3, -77.5, 274),
    (152, -78, 274), (154.3, -77.8, 277), (156.6, -77.7, 274), (158.6, -77.5, 276), (162.7, -78, 278),
    (166.5, -77.5, 271), (164.7, -77.5, 265), (167.4, -78.3, 262), (160.6, -78.2, 264), (153.4, -78.5, 277),
    (160.6, -79, 270), (163.3, -78.7, 276), (164.7, -78.9, 272), (151.2, -79.2, 261), (150.7, -79.6, 261),
    (152.1, -79.8, 274), (153.4, -79.6, 279), (160.6, -79.5, 268), (167.4, -79.8, 274), (168.7, -80.1, 273),
    (165.6, -79.8, 264), (162, -80.3, 276), (160.6, -80.3, 277), (162.4, -80.8, 272), (149.4, -80.6, 273),
    (150.1, -81, 272), (149.8, -81.2, 274), (170.1, -81.2, 264), (170.3, -81.4, 270), (171.7, -81.6, 276),
    (172.2, -81.9, 265), (159.5, -73, 267), (161, -73.8, 266), (163, -74.8, 266), (159.5, -75, 265.5),
    (161.5, -75.2, 265.5), (157.5, -74.9, 265), (156.8, -75.6, 264), (158.8, -76.4, 264), (160.3, -76.6, 265),
    (162, -77.6, 266), (163.5, -76.4, 265.5), (155.2, -76.4, 265), (158, -78.4, 264), (156.4, -78.8, 263),
    (165.8, -77, 266), (164.2, -78.1, 265), (166, -79.1, 263), (154.9, -79, 262),
    (145, -53.6, 276), (147, -55, 274), (146.5, -58, 266), (148, -59.3, 265), (146.5, -60.6, 279),
    (149.5, -61.2, 274), (150.8, -62.5, 273), (149, -64.4, 271), (150, -64.2, 277), (152.6, -64.4, 272),
    (151, -66, 272), (153, -67, 277), (155, -68.6, 268), (156.3, -70.4, 272), (153.5, -72, 279),
    (156.3, -73.6, 268), (151.2, -74.4, 264), (154.5, -74.9, 266), (163, -72.4, 266), (165, -73, 266),
    (163.6, -75.1, 267), (159, -71.8, 267), (160.2, -71.8, 268), (161.2, -72.9, 268), (159.4, -74.2, 266),
    (155.5, -77.5, 270), (157.6, -79.4, 272), (155.5, -77, 266), (161, -77.3, 266), (162.5, -79.4, 263),
    (166.5, -78.7, 270), (154.5, -80, 276), (155.8, -75, 266), (153.7, -73.7, 265), (152.3, -76.2, 265),
    (157.6, -77, 264),
]

point_groups = [far_east, cluster_a, cluster_b, cluster_c, near_side, cluster_e]
dense_groups = [base, band_top, lobe, ridge, cluster_f, tower]

# ── Assemble ──────────────────────────────────────────────────────────────────

band_series = [
    (band_lat_a, lon_260, 260), (band_lat_b, lon_261, 261), (band_lat_a, lon_262, 262), (band_lat_b, lon_263, 263),
    (band_lat_a, lon_264, 264), (band_lat_b, lon_265, 265), (band_lat_a, lon_266, 266), (band_lat_b, lon_267, 267.5),
    (band_lat_a, lon_269, 269), (band_lat_b, lon_270, 270.5), (band_lat_a, lon_272, 272), (band_lat_b, lon_274, 274),
    (band_lat_a, lon_275, 275.5), (band_lat_b, lon_277, 277), (band_lat_a, lon_278, 278.5),
    (band2_lat, b2_268, 268), (band2_lat, b2_270, 270), (band2_lat, b2_272, 272),
    (band2_lat, b2_274, 274), (band2_lat, b2_276, 276), (band2_lat, b2_278, 278),
]

lons, lats, args = [], [], []
for group in point_groups + dense_groups[:1]:
    for lon, lat, arg in group:
        lons.append(lon); lats.append(lat); args.append(arg)
for row_lat, row_lon, arg in band_series:
    for lon, lat in zip(row_lon, row_lat):
        if not np.isnan(lon):
            lons.append(lon); lats.append(lat); args.append(arg)
for group in dense_groups[1:]:
    for lon, lat, arg in group:
        lons.append(lon); lats.append(lat); args.append(arg)

# ── Figure ────────────────────────────────────────────────────────────────────

fig = plt.figure(figsize=(W / 100, H / 100), dpi=100, facecolor="white")
fig.add_artist(Rectangle((10 / W, 0), 1 - 10 / W, 1 - 8 / H, transform=fig.transFigure, color=BG, lw=0, zorder=-5))

cmap = LinearSegmentedColormap.from_list(
    "perilune", [((s - 260) / 20, c) for s, c in zip(ARG_STOPS, ARG_COLORS)], N=512)
norm = Normalize(260, 280)

ax = fig.add_axes([100 / W, 1 - 879 / H, (1584 - 100) / W, (879 - 12) / H])
ax.set_facecolor(BG)
ax.set_xlim(-200, 200.5)
ax.set_ylim(-90, -5.3)
ax.set_xticks(X_TICKS)
ax.set_yticks(Y_TICKS)
ax.grid(True, color=GRID, lw=1.0, zorder=0)
ax.set_axisbelow(True)
ax.axvline(0, color=GRID, lw=1.6, zorder=1)
for sp in ax.spines.values():
    sp.set_visible(False)
ax.tick_params(length=0, labelsize=11.5, labelcolor=TEXT)
ax.tick_params(axis="x", pad=5)
ax.tick_params(axis="y", pad=4)
ax.set_xticklabels([str(t).replace("-", "\u2212") for t in X_TICKS])
ax.set_yticklabels([str(t).replace("-", "\u2212") for t in Y_TICKS])

ax.scatter(lons, lats, s=34, facecolors="none", edgecolors=cmap(norm(np.array(args))), linewidths=1.35, zorder=3)

fig.text(841 / W, 1 - 929 / H, "final Lunar Longitude (deg)", color=TEXT, fontsize=12.9, ha="center", va="center")
fig.text(30 / W, 1 - 446 / H, "final Lunar Latitude (deg)", color=TEXT, fontsize=12.9, ha="center", va="center", rotation=90)

cax = fig.add_axes([1627 / W, 1 - 869 / H, 39 / W, (869 - 56) / H])
grad = np.linspace(280, 260, 512).reshape(-1, 1)
cax.imshow(grad, aspect="auto", cmap=cmap, norm=norm, extent=[0, 1, 260, 280])
cax.set_xticks([])
cax.yaxis.tick_right()
cax.set_yticks(CBAR_TICKS)
cax.tick_params(length=0, labelsize=11.5, labelcolor=TEXT, pad=3)
for sp in cax.spines.values():
    sp.set_visible(False)

fig.text(1627 / W, 1 - 37 / H, "initial Argument of Perilune (deg)", color=TEXT, fontsize=12.9, ha="left", va="center")

fig.savefig("out.png", dpi=100, facecolor="white")
